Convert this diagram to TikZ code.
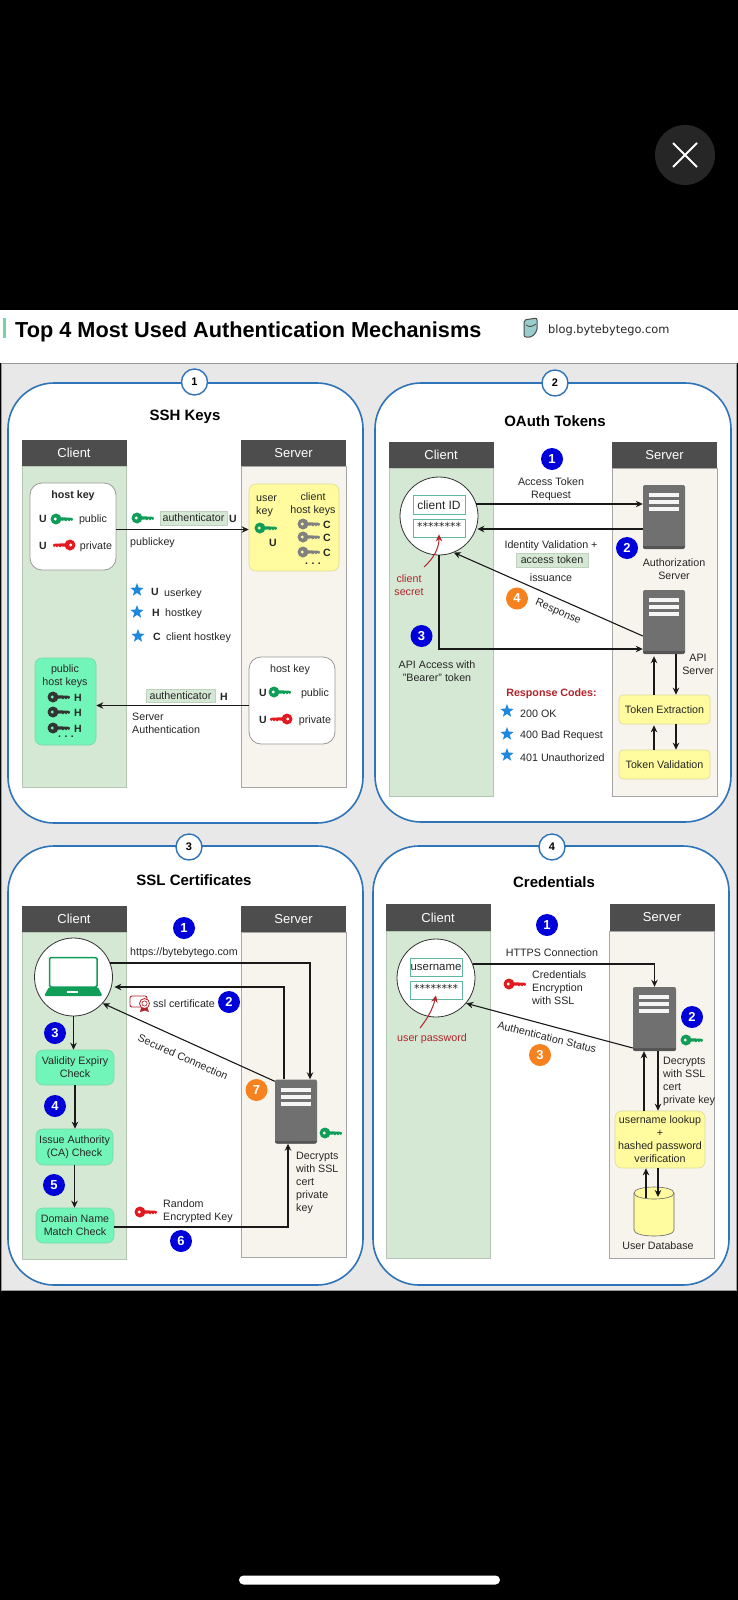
\documentclass[tikz,border=0pt]{standalone}
\usepackage{fontspec}
\setmainfont{Liberation Sans}
\newfontfamily\starfont{DejaVu Sans}
\usepackage{tikz}
\usetikzlibrary{arrows.meta,shapes.geometric}

\definecolor{panelblue}{HTML}{2F74B8}
\definecolor{panelgray}{HTML}{E8E8E8}
\definecolor{headgray}{HTML}{4D4D4D}
\definecolor{clientfill}{HTML}{D5E8D4}
\definecolor{serverfill}{HTML}{F6F4EC}
\definecolor{srvgray}{HTML}{707070}
\definecolor{srvdark}{HTML}{555555}
\definecolor{keygreen}{HTML}{0F9D58}
\definecolor{keyred}{HTML}{E2191F}
\definecolor{keygray}{HTML}{808080}
\definecolor{keyblack}{HTML}{333333}
\definecolor{softyellow}{HTML}{FFFB9E}
\definecolor{softgreen}{HTML}{72F5B8}
\definecolor{tagfill}{HTML}{D5E8D4}
\definecolor{stepblue}{HTML}{0000D8}
\definecolor{steporange}{HTML}{F5821F}
\definecolor{starblue}{HTML}{1E88DC}
\definecolor{darkred}{HTML}{B2232A}
\definecolor{fieldline}{HTML}{5FB7A0}

\begin{document}
\begin{tikzpicture}[x=1pt, y=-1pt, >={Stealth[length=7pt,width=6.5pt]},
    every node/.style={font=\fontsize{10.7}{13}\selectfont, inner sep=0pt, text=black!85},
    panelbox/.style={draw=panelblue, line width=1.6pt, fill=white, rounded corners=46pt},
    panelnum/.style={circle, draw=panelblue, line width=1.4pt, fill=white, minimum size=26, font=\fontsize{11}{13}\selectfont\bfseries, text=black},
    paneltitle/.style={yshift=-2pt, font=\fontsize{15}{18}\selectfont\bfseries, text=black},
    lanehead/.style={fill=headgray, text=white, font=\fontsize{13}{15}\selectfont},
    clientlane/.style={fill=clientfill, draw=clientfill!85!black, line width=.5pt},
    serverlane/.style={fill=serverfill, draw=black!35, line width=.8pt},
    softbox/.style={rounded corners=7pt, draw=#1!75!gray, fill=#1, line width=.6pt, align=center},
    whitebox/.style={rounded corners=12pt, draw=black!40, fill=white, line width=.8pt},
    tagbox/.style={fill=tagfill, draw=tagfill!90!black, line width=.4pt},
    field/.style={draw=fieldline, fill=white, line width=.8pt},
    lens/.style={circle, draw=black!80, fill=white, line width=.8pt, minimum size=78},
    lbl/.style={yshift=-1.5pt, align=center},
    lblleft/.style={yshift=-1.5pt, anchor=west, align=left},
    keymark/.style={yshift=-1pt, font=\fontsize{10.5}{13}\selectfont\bfseries},
    stepnum/.style={circle, fill=#1, minimum size=22, text=white, font=\fontsize{13}{15}\selectfont\bfseries},
    starmark/.style={star, star points=5, star point ratio=2.4, fill=starblue, minimum size=14},
    stars/.style={font=\starfont\fontsize{11}{13}\selectfont},
    link/.style={draw=black!90, line width=1.1pt},
    redlink/.style={draw=darkred, line width=1pt},
    serverbox/.style={fill=srvgray, rounded corners=2pt, minimum width=42, minimum height=64,
      path picture={
        \fill[srvdark, sharp corners] ([yshift=3pt]path picture bounding box.south west) rectangle (path picture bounding box.south east);
        \fill[white!92!gray, sharp corners] ([shift={(6pt,-8pt)}]path picture bounding box.north west) rectangle ++(30pt,-4pt);
        \fill[white!92!gray, sharp corners] ([shift={(6pt,-15pt)}]path picture bounding box.north west) rectangle ++(30pt,-4pt);
        \fill[white!92!gray, sharp corners] ([shift={(6pt,-22pt)}]path picture bounding box.north west) rectangle ++(30pt,-4pt);
      }},
    keyicon/.pic={
      \fill[#1, even odd rule] (0,0) circle (5.5) (-.8,0) circle (1.9);
      \fill[#1] (4,-1.8) -- (16,-1.2) -- (17,0) -- (16,2) -- (14.5,1) -- (13,2.4) -- (11.5,1) -- (10,2.4) -- (8.5,1.4) -- (4,1.8) -- cycle;
    }]
  \useasboundingbox (0,0) rectangle (738,1600);

  % Phone screen
  \fill[black] (0,0) rectangle (738,1600);
  \fill[white] (0,310) rectangle (738,363);
  \node[circle, fill=black!85, minimum size=60] (closeBtn) at (685,155) {};
  \draw[white, line width=2pt] (673,143) -- (697,167);
  \draw[white, line width=2pt] (673,167) -- (697,143);
  \fill[white, rounded corners=4.5pt] (239,1575.5) rectangle (500,1584.5);

  % Header
  \fill[softgreen!70!gray] (3,318) rectangle (6,338);
  \node[lblleft, font=\fontsize{21.7}{24}\selectfont\bfseries, text=black] (mainTitle) at (15,330) {Top 4 Most Used Authentication Mechanisms};
  \draw[black!70, fill=white!60!teal, line width=1pt, rounded corners=2pt] (524,320) -- (537,318) -- (537,331) -- (532,337) -- (524,337) -- cycle;
  \draw[black!70, line width=.8pt] (526,325) .. controls (530,328) and (533,326) .. (536,324);
  \node[lblleft, font=\starfont\fontsize{11.4}{13}\selectfont] (blogLink) at (548,329) {blog.bytebytego.com};

  % Background and panels
  \node[fill=panelgray, draw=black!40, line width=1pt, minimum width=735, minimum height=927] (bgPanel) at (368.5,826.5) {};
  \node[panelbox, minimum width=355, minimum height=440] (sshPanel) at (185.5,603) {};
  \node[panelbox, minimum width=356, minimum height=439] (oauthPanel) at (553,602.5) {};
  \node[panelbox, minimum width=355, minimum height=439] (sslPanel) at (185.5,1065.5) {};
  \node[panelbox, minimum width=356, minimum height=439] (credPanel) at (551,1065.5) {};
  \node[panelnum] (sshNum) at (194.5,382) {1};
  \node[panelnum] (oauthNum) at (555,383) {2};
  \node[panelnum] (sslNum) at (189,847) {3};
  \node[panelnum] (credNum) at (552,847) {4};

  % SSH Keys
  \node[paneltitle] (sshTitle) at (185,415) {SSH Keys};
  \node[clientlane, minimum width=104, minimum height=321] (sshClient) at (74,626.5) {};
  \node[serverlane, minimum width=105, minimum height=321] (sshServer) at (293.5,626.5) {};
  \node[lanehead, minimum width=105, minimum height=26] (sshClientHead) at (74,453) {Client};
  \node[lanehead, minimum width=105, minimum height=26] (sshServerHead) at (293.5,453) {Server};

  \node[whitebox, minimum width=86, minimum height=87] (hostKeyA) at (73,526.5) {};
  \node[lbl, font=\fontsize{10.7}{13}\selectfont\bfseries] (hostKeyATitle) at (73,494) {host key};
  \node[keymark] (uA) at (43,518) {U};
  \pic at (56,519) {keyicon=keygreen};
  \node[lbl] (publicA) at (93,518) {public};
  \node[keymark] (uB) at (43,545) {U};
  \pic[xscale=-1] at (70,545) {keyicon=keyred};
  \node[lbl] (privateA) at (96,545) {private};

  \node[softbox=softyellow, minimum width=90, minimum height=87] (userKeys) at (294,527.5) {};
  \node[lblleft] (userKeyLbl) at (256,504.5) {user\\key};
  \pic at (260,528) {keyicon=keygreen};
  \node[keymark] (uC) at (273,542) {U};
  \node[lbl] (clientKeysLbl) at (313,502.5) {client\\host keys};
  \pic at (303,524) {keyicon=keygray};
  \node[keymark] (cA) at (327,524) {C};
  \pic at (303,537) {keyicon=keygray};
  \node[keymark] (cB) at (327,537) {C};
  \pic at (303,552) {keyicon=keygray};
  \node[keymark] (cC) at (327,552) {C};
  \node[keymark] (dotsA) at (313,563) {.\,\,.\,\,.};

  \pic at (137,518) {keyicon=keygreen};
  \node[tagbox, minimum width=67, minimum height=14] (authTagA) at (193.5,518) {authenticator};
  \node[keymark] (uD) at (233,518) {U};
  \node[lblleft] (publickeyLbl) at (130,541) {publickey};
  \draw[link,->] ([yshift=-3pt]hostKeyA.east) -- ([yshift=-2pt]userKeys.west);

  \node[starmark] (starA) at (137,590) {};
  \node[keymark] (legU) at (155,591) {U};
  \node[lblleft] (legUser) at (164,592) {userkey};
  \node[starmark] (starB) at (137,612) {};
  \node[keymark] (legH) at (156,612) {H};
  \node[lblleft] (legHost) at (165,612) {hostkey};
  \node[starmark] (starC) at (138,636) {};
  \node[keymark] (legC) at (157,636) {C};
  \node[lblleft] (legClient) at (166,636) {client hostkey};

  \node[softbox=softgreen, minimum width=61, minimum height=87] (pubHostKeys) at (65.5,701.5) {};
  \node[lbl] (pubHostLbl) at (65,674.5) {public\\host keys};
  \pic at (53,697) {keyicon=keyblack};
  \node[keymark] (hA) at (78,697) {H};
  \pic at (53,712) {keyicon=keyblack};
  \node[keymark] (hB) at (78,712) {H};
  \pic at (53,728) {keyicon=keyblack};
  \node[keymark] (hC) at (78,728) {H};
  \node[keymark] (dotsB) at (66,736) {.\,\,.\,\,.};

  \node[whitebox, minimum width=86, minimum height=87] (hostKeyB) at (292,700.5) {};
  \node[lbl] (hostKeyBTitle) at (290,668) {host key};
  \node[keymark] (uE) at (263,692) {U};
  \pic at (274,692) {keyicon=keygreen};
  \node[lbl] (publicB) at (315,692) {public};
  \node[keymark] (uF) at (263,719) {U};
  \pic[xscale=-1] at (287,719) {keyicon=keyred};
  \node[lbl] (privateB) at (315,719) {private};

  \node[tagbox, minimum width=69, minimum height=13] (authTagB) at (180.5,696) {authenticator};
  \node[keymark] (hD) at (224,696) {H};
  \node[lblleft] (serverAuthLbl) at (132,721.5) {Server\\Authentication};
  \draw[link,->] ([yshift=-5pt]hostKeyB.west) -- ([yshift=-4pt]pubHostKeys.east);

  % OAuth Tokens
  \node[paneltitle] (oauthTitle) at (555,419) {OAuth Tokens};
  \node[clientlane, minimum width=104, minimum height=328] (oauthClient) at (441,632) {};
  \node[serverlane, minimum width=105, minimum height=328] (oauthServer) at (664.5,632) {};
  \node[lanehead, minimum width=105, minimum height=26] (oauthClientHead) at (441,455) {Client};
  \node[lanehead, minimum width=105, minimum height=26] (oauthServerHead) at (664.5,455) {Server};

  \node[stepnum=stepblue] (oaOne) at (552,459) {1};
  \node[lbl] (accessReqLbl) at (551,487.5) {Access Token\\Request};
  \node[lens] (clientCirc) at (439,516) {};
  \node[field, minimum width=52, minimum height=19, font=\fontsize{12}{14}\selectfont] (clientField) at (439,505) {client ID};
  \node[field, minimum width=52, minimum height=18] (pwdBox) at (439,528) {};
  \node[stars] (pwdStars) at (439,526) {********};
  \node[serverbox] (authSrv) at (664,517) {};
  \draw[link,->] ([shift={(-2pt,12pt)}]clientCirc.east) -- ([yshift=13pt]authSrv.west);
  \draw[link,->, line width=1.4pt] ([yshift=-12pt]authSrv.west) -- ([shift={(-1pt,-13pt)}]clientCirc.east);

  \node[lbl] (identityLbl) at (551,544) {Identity Validation +};
  \node[tagbox, minimum width=72, minimum height=14] (accessTag) at (552,560) {access token};
  \node[lbl] (issuanceLbl) at (551,576) {issuance};
  \node[stepnum=stepblue] (oaTwo) at (627,548) {2};
  \node[lbl] (authSrvLbl) at (674,567.5) {Authorization\\Server};

  \node[lbl, text=darkred] (secretLbl) at (409,583.5) {client\\secret};
  \coordinate (secretTail) at (424,567);
  \draw[redlink,->] (secretTail) .. controls (434,558) and (439,548) .. ([yshift=3pt]pwdBox.south);

  \node[serverbox] (apiSrv) at (664,622) {};
  \draw[link,->] ([yshift=-14pt]apiSrv.west) -- (clientCirc.-68);
  \node[stepnum=steporange] (oaFour) at (517,598.5) {4};
  \node[rotate=-23] (responseLbl) at (558,612) {Response};
  \draw[link,->] (clientCirc.south) |- ([yshift=-27pt]apiSrv.west);
  \node[stepnum=stepblue] (oaThree) at (421.5,636) {3};
  \node[lbl] (apiAccessLbl) at (437,669.5) {API Access with\\"Bearer" token};
  \node[lbl] (apiSrvLbl) at (698,662.5) {API\\Server};

  \node[lbl, text=darkred, font=\fontsize{10.7}{13}\selectfont\bfseries] (codesLbl) at (551.5,692) {Response Codes:};
  \node[starmark] (starD) at (507,711) {};
  \node[lblleft] (codeOk) at (520,712) {200 OK};
  \node[starmark] (starE) at (507,734) {};
  \node[lblleft] (codeBad) at (520,734) {400 Bad Request};
  \node[starmark] (starF) at (507,755) {};
  \node[lblleft] (codeAuth) at (520,756) {401 Unauthorized};

  \node[softbox=softyellow, rounded corners=4pt, minimum width=91, minimum height=29] (tokExt) at (664.5,709.5) {Token Extraction};
  \node[softbox=softyellow, rounded corners=4pt, minimum width=91, minimum height=29] (tokVal) at (664.5,764.5) {Token Validation};
  \draw[link,->, shorten >=2pt] ([xshift=-10.5pt]tokExt.north) -- ([xshift=-10pt]apiSrv.south);
  \draw[link,->] ([xshift=12pt]apiSrv.south) -- ([xshift=11.5pt]tokExt.north);
  \draw[link,->, shorten >=1pt] ([xshift=-10.5pt]tokVal.north) -- ([xshift=-10.5pt]tokExt.south);
  \draw[link,->] ([xshift=11.5pt]tokExt.south) -- ([xshift=11.5pt]tokVal.north);

  % SSL Certificates
  \node[paneltitle] (sslTitle) at (194,878) {SSL Certificates};
  \node[clientlane, minimum width=104, minimum height=327] (sslClient) at (74,1095.5) {};
  \node[serverlane, minimum width=105, minimum height=325] (sslServer) at (293.5,1094.5) {};
  \node[lanehead, minimum width=105, minimum height=26] (sslClientHead) at (74,919) {Client};
  \node[lanehead, minimum width=105, minimum height=26] (sslServerHead) at (293.5,919) {Server};

  \node[stepnum=stepblue] (slOne) at (184,928) {1};
  \node[lbl] (urlLbl) at (184,951) {https://bytebytego.com};
  \node[lens] (sslCirc) at (73.5,977) {};
  \draw[keygreen, line width=1.5pt, rounded corners=1.5pt, fill=white] (49.5,957.5) rectangle (97,987);
  \fill[keygreen, rounded corners=1.5pt] (49,987) -- (98,987) -- (102.5,996) -- (44,996) -- cycle;
  \fill[white] (67,991) rectangle (78,993);

  \node[serverbox] (sslSrv) at (296,1111.5) {};
  \draw[link,->] ([shift={(-3pt,14pt)}]sslCirc.east) -| ([xshift=14pt]sslSrv.north);
  \draw[link,->] ([xshift=-12pt]sslSrv.north) |- ([shift={(1.5pt,-10pt)}]sslCirc.east);
  \draw[link,->] ([yshift=-2pt]sslSrv.north west) -- (sslCirc.-42);

  \draw[darkred, line width=.9pt, fill=white, rounded corners=2pt] (130,996) rectangle (147,1007);
  \draw[darkred, line width=.8pt, fill=white] (144.5,1003.5) circle (5);
  \draw[darkred, line width=.6pt] (144.5,1003.5) circle (2.6);
  \fill[darkred] (141,1008) -- (147.5,1008) -- (149,1012) -- (145,1010.5) -- (140,1012) -- cycle;
  \node[lbl] (certLbl) at (184,1002) {ssl certificate};
  \node[stepnum=stepblue] (slTwo) at (229,1002) {2};
  \node[rotate=-24] (securedLbl) at (183,1057) {Secured Connection};
  \node[stepnum=steporange] (slSeven) at (256.5,1090) {7};
  \pic at (325,1133) {keyicon=keygreen};
  \node[lblleft] (decryptLblA) at (296,1181) {Decrypts\\with SSL\\cert\\private\\key};

  \node[softbox=softgreen, minimum width=78, minimum height=35] (checkA) at (75,1067.5) {Validity Expiry\\Check};
  \node[softbox=softgreen, minimum width=77, minimum height=36] (checkB) at (74.5,1147) {Issue Authority\\(CA) Check};
  \node[softbox=softgreen, minimum width=78, minimum height=35] (checkC) at (75,1225.5) {Domain Name\\Match Check};
  \node[stepnum=stepblue] (slThree) at (55,1033) {3};
  \node[stepnum=stepblue] (slFour) at (55,1106) {4};
  \node[stepnum=stepblue] (slFive) at (54,1185) {5};
  \draw[link,->] (sslCirc.south) -- (sslCirc.south |- checkA.north);
  \draw[link,->] (checkA.south) -- (checkA.south |- checkB.north);
  \draw[link,->] (checkB.south) -- (checkB.south |- checkC.north);

  \pic at (140,1212) {keyicon=keyred};
  \node[lblleft] (randomLbl) at (163,1209.5) {Random\\Encrypted Key};
  \draw[link,->] ([yshift=-1.5pt]checkC.east) -| ([xshift=-8pt]sslSrv.south);
  \node[stepnum=stepblue] (slSix) at (181,1241) {6};

  % Credentials
  \node[paneltitle] (credTitle) at (554,880) {Credentials};
  \node[clientlane, minimum width=104, minimum height=327] (credClient) at (438,1094.5) {};
  \node[serverlane, minimum width=105, minimum height=327] (credServer) at (662,1094.5) {};
  \node[lanehead, minimum width=105, minimum height=27] (credClientHead) at (438,917.5) {Client};
  \node[lanehead, minimum width=105, minimum height=27] (credServerHead) at (662,917.5) {Server};

  \node[stepnum=stepblue] (crOne) at (547,925) {1};
  \node[lbl] (httpsLbl) at (552,951) {HTTPS Connection};
  \node[lens] (credCirc) at (436,978) {};
  \node[field, minimum width=52, minimum height=18, font=\fontsize{11.4}{13}\selectfont] (userField) at (436,967) {username};
  \node[field, minimum width=52, minimum height=18] (pwdField) at (436,990) {};
  \node[stars] (pwdFieldStars) at (436,988) {********};
  \node[lbl, text=darkred] (userPwdLbl) at (432,1037) {user password};
  \coordinate (userPwdTail) at (420,1028);
  \draw[redlink,->] (userPwdTail) .. controls (428,1018) and (433,1008) .. ([yshift=4pt]pwdField.south);

  \node[serverbox, minimum width=43] (credSrv) at (654.5,1019) {};
  \draw[link,->] ([shift={(-2pt,14pt)}]credCirc.east) -| (credSrv.north);
  \draw[link,->] ([yshift=-29pt]credSrv.west) -- (credCirc.-40);
  \pic at (509,984) {keyicon=keyred};
  \node[lblleft] (credEncLbl) at (532,986) {Credentials\\Encryption\\with SSL};
  \node[rotate=-14] (authStatusLbl) at (547,1037) {Authentication Status};
  \node[stepnum=steporange] (crThree) at (540,1055) {3};
  \node[stepnum=stepblue] (crTwo) at (692,1017) {2};
  \pic at (686,1040) {keyicon=keygreen};
  \node[lblleft] (decryptLblB) at (663,1079.5) {Decrypts\\with SSL\\cert\\private key};

  \node[softbox=softyellow, minimum width=90, minimum height=57] (credBox) at (660,1139.5) {username lookup\\+\\hashed password\\verification};
  \draw[link,->] ([xshift=-16pt]credBox.north) -- ([xshift=-10.5pt]credSrv.south);
  \draw[link,->] ([xshift=3.5pt]credSrv.south) -- ([xshift=-2pt]credBox.north);

  % User database drum
  \draw[black!60, fill=softyellow, line width=.6pt] (634,1193) .. controls (634,1185) and (674,1185) .. (674,1193) -- (674,1230) .. controls (674,1238) and (634,1238) .. (634,1230) -- cycle;
  \draw[black!60, line width=.6pt] (634,1193) .. controls (634,1201) and (674,1201) .. (674,1193);
  \coordinate (dbIn) at (646,1198);
  \coordinate (dbOut) at (658,1197);
  \draw[link,->] (dbIn) -- ([xshift=-14pt]credBox.south);
  \draw[link,->] ([xshift=-2pt]credBox.south) -- (dbOut);
  \node[lbl] (userDbLbl) at (658,1244) {User Database};
\end{tikzpicture}
\end{document}
